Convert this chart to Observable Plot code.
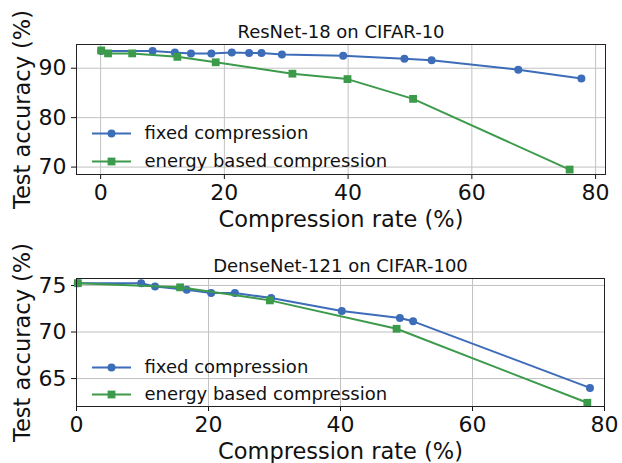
<!DOCTYPE html>
<html>
<head>
<meta charset="utf-8">
<script src="https://cdn.jsdelivr.net/npm/d3@7"></script>
<script src="https://cdn.jsdelivr.net/npm/@observablehq/plot@0.6"></script>
<style>
  body { margin: 0; background: #fff; }
  #chart { position: relative; width: 622px; height: 463px; background: #fff; }
  #chart > svg { position: absolute; left: 0; }
</style>
</head>
<body>
<div id="chart"></div>
<script>
// ---- Data ----
const seriesNames = ["fixed compression", "energy based compression"];
const xTicks = [0, 20, 40, 60, 80];

// ResNet-18 on CIFAR-10
const resnetTitle = "ResNet-18 on CIFAR-10";
const resnetFixedX = [0.1, 8.4, 12.0, 14.6, 17.9, 21.2, 24.0, 26.0, 29.3, 39.2, 49.1, 53.5, 67.5, 77.7];
const resnetFixedY = [93.5, 93.5, 93.2, 93.0, 93.0, 93.2, 93.1, 93.1, 92.8, 92.5, 91.9, 91.6, 89.7, 87.9];
const resnetEnergyX = [0.1, 1.2, 5.1, 12.4, 18.6, 31.0, 39.9, 50.5, 75.8];
const resnetEnergyY = [93.6, 93.0, 93.0, 92.3, 91.2, 88.9, 87.8, 83.8, 69.5];
const resnetYTicks = [70, 80, 90];

// DenseNet-121 on CIFAR-100
const densenetTitle = "DenseNet-121 on CIFAR-100";
const densenetFixedX = [0.2, 9.8, 11.9, 16.7, 20.4, 24.0, 29.5, 40.2, 49.0, 51.0, 77.8];
const densenetFixedY = [75.25, 75.25, 74.9, 74.55, 74.2, 74.2, 73.65, 72.25, 71.5, 71.15, 64.0];
const densenetEnergyX = [0.2, 15.7, 29.3, 48.5, 77.4];
const densenetEnergyY = [75.25, 74.8, 73.4, 70.35, 62.4];
const densenetYTicks = [65, 70, 75];

const xLabel = "Compression rate (%)";
const yLabel = "Test accuracy (%)";

// ---- Style ----
const BLUE = "#3d6cb9";
const GREEN = "#3c9a4b";
const GRID = "#c2c2c2";
const FONT = "DejaVu Sans";

const legendLine = {
  draw(ctx) { ctx.moveTo(-19.5, 0); ctx.lineTo(19.5, 0); }
};

function panel(o) {
  const fixed = o.fixedX.map((x, i) => ({x, y: o.fixedY[i]}));
  const energy = o.energyX.map((x, i) => ({x, y: o.energyY[i]}));
  const legend = [
    {name: seriesNames[0], color: BLUE, symbol: "circle", r: 4, dy: o.legendDy[0]},
    {name: seriesNames[1], color: GREEN, symbol: "square", r: 4.4, dy: o.legendDy[1]}
  ];
  const legendMarks = legend.flatMap(d => [
    Plot.dot([d], {frameAnchor: "bottom-left", dx: 35, dy: d.dy, symbol: legendLine, r: 4, stroke: d.color, strokeWidth: 2, fill: "none"}),
    Plot.dot([d], {frameAnchor: "bottom-left", dx: 35, dy: d.dy, symbol: d.symbol, r: d.r, fill: d.color, stroke: "none"}),
    Plot.text([d], {frameAnchor: "bottom-left", dx: 68, dy: d.dy, text: "name", textAnchor: "start", lineAnchor: "middle", fontSize: 18, fill: "#111"})
  ]);
  return Plot.plot({
    width: 622,
    height: o.height,
    marginLeft: o.ml, marginRight: o.mr, marginTop: o.mt, marginBottom: o.mb,
    style: {fontFamily: FONT, fontSize: "22px", color: "#111", background: "transparent", overflow: "visible"},
    x: {domain: o.xDomain, ticks: xTicks, tickSize: 5, tickPadding: 5, label: null, tickFormat: d => String(d)},
    y: {domain: o.yDomain, ticks: o.yTicks, tickSize: 5, tickPadding: 5, label: null, tickFormat: d => String(d)},
    marks: [
      Plot.ruleX(xTicks, {stroke: GRID, strokeWidth: 1}),
      Plot.ruleY(o.yTicks, {stroke: GRID, strokeWidth: 1}),
      Plot.line(fixed, {x: "x", y: "y", stroke: BLUE, strokeWidth: 2}),
      Plot.dot(fixed, {x: "x", y: "y", r: 4, fill: BLUE, stroke: "none"}),
      Plot.line(energy, {x: "x", y: "y", stroke: GREEN, strokeWidth: 2}),
      Plot.dot(energy, {x: "x", y: "y", symbol: "square", r: 4.4, fill: GREEN, stroke: "none"}),
      Plot.frame({stroke: "#222", strokeWidth: 1}),
      ...legendMarks,
      Plot.text([o.title], {frameAnchor: "top", dy: -6.5, textAnchor: "middle", lineAnchor: "bottom", fontSize: 18, fill: "#111"}),
      Plot.text([xLabel], {frameAnchor: "bottom", dy: 52, textAnchor: "middle", lineAnchor: "bottom", fontSize: 22.5, fill: "#111"}),
      Plot.text([yLabel], {frameAnchor: "left", dx: -54, rotate: -90, textAnchor: "middle", lineAnchor: "middle", fontSize: 22.5, fill: "#111"})
    ]
  });
}

const top1 = panel({
  title: resnetTitle,
  fixedX: resnetFixedX, fixedY: resnetFixedY, energyX: resnetEnergyX, energyY: resnetEnergyY,
  xDomain: [-3.9, 81.6], yDomain: [68.5, 94.8], yTicks: resnetYTicks,
  height: 232, ml: 76, mr: 17, mt: 44, mb: 58, legendDy: [-41, -13]
});
const bot1 = panel({
  title: densenetTitle,
  fixedX: densenetFixedX, fixedY: densenetFixedY, energyX: densenetEnergyX, energyY: densenetEnergyY,
  xDomain: [0, 80], yDomain: [62.0, 75.75], yTicks: densenetYTicks,
  height: 231, ml: 76, mr: 18, mt: 46, mb: 57, legendDy: [-39, -12]
});
top1.style.top = "0px";
bot1.style.top = "232px";
const chart = document.getElementById("chart");
chart.appendChild(top1);
chart.appendChild(bot1);
</script>
</body>
</html>
